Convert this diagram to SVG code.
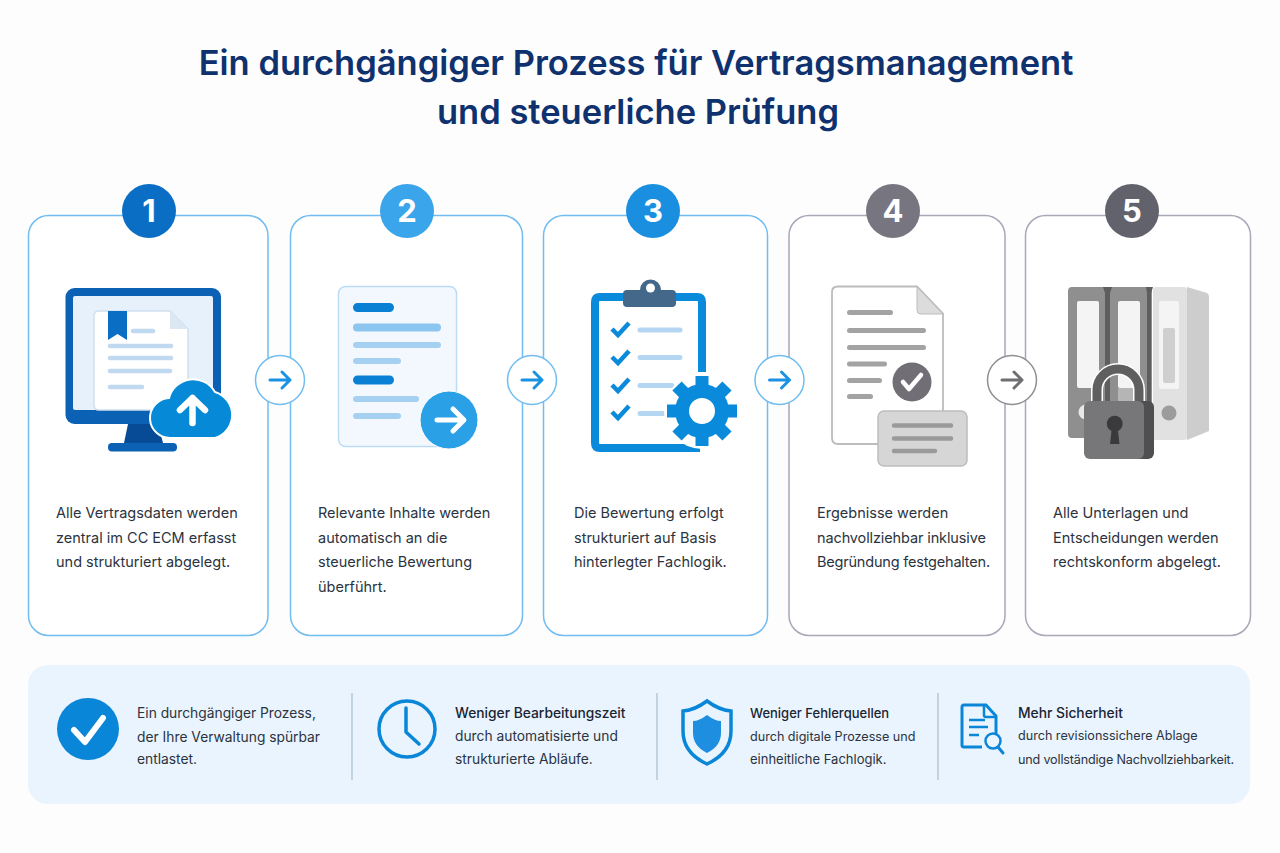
<svg xmlns="http://www.w3.org/2000/svg" width="1280" height="853" viewBox="0 0 1280 853">
<style>
text{font-family:"Inter","Liberation Sans",sans-serif}
.t{font-size:34.5px;font-weight:600;fill:#0f326e;text-anchor:middle}
.b{font-size:14.5px;fill:#2b3340}
.s{font-size:13.8px;fill:#2b3340}
.s2{font-size:12.6px;fill:#2b3340}
.h{font-size:13.8px;font-weight:500;fill:#1b2433}
.n{font-size:31px;font-weight:700;fill:#fff;text-anchor:middle}
.card{fill:#fff;stroke-width:1.5}
.bl{stroke:#72bdf0}.gr{stroke:#a8a8b8}
.arr{fill:none;stroke-width:3;stroke-linecap:round;stroke-linejoin:round}
.ac{fill:#fff;stroke-width:1.5}
.div{stroke:#a9bccd;stroke-width:1.2}
</style>
<rect width="1280" height="853" fill="#fdfdfe"/>
<g id="title"><text class="t" x="636" y="75">Ein durchgängiger Prozess für Vertragsmanagement</text><text class="t" x="638" y="124">und steuerliche Prüfung</text></g>

<g id="step1">
<rect class="card bl" x="28.500" y="215.500" width="239.500" height="420" rx="20"/>
<circle cx="149" cy="211" r="27" fill="#0a6fc4"/><text class="n" x="149" y="222">1</text>
<rect x="65.500" y="288" width="155.500" height="136" rx="9" fill="#0b62b4"/>
<rect x="73" y="296" width="140" height="114" rx="2" fill="#e6f1fb"/>
<path d="M128 424h30l5 19h-39z" fill="#074a95"/><rect x="108" y="443" width="69" height="8.500" rx="4" fill="#0b62b4"/>
<path d="M99 311h71l18 18v81H99q-5 0-5-5v-89q0-5 5-5z" fill="#fff" stroke="#cfe0f0" stroke-width="1.500"/>
<path d="M170 311l18 18h-18z" fill="#dbe8f4"/>
<path d="M108 311h19v29l-9.500-6-9.500 6z" fill="#0a6fc4"/>
<g stroke="#c0d9f0" stroke-width="4.500" stroke-linecap="round"><path d="M133 331h20"/><path d="M110 346h61M110 358h61M110 371h60M110 387h32"/></g>
<path d="M171 438A20 20 0 0 1 169 398A25 25 0 0 1 215 392A24 24 0 0 1 215 438Z" fill="#068ad8" stroke="#fff" stroke-width="2"/>
<path d="M192.500 423v-25M180 410l12.500-12 12.500 12" fill="none" stroke="#fff" stroke-width="6.500" stroke-linecap="round" stroke-linejoin="round"/>
<text class="b"><tspan x="56" y="518">Alle Vertragsdaten werden</tspan><tspan x="56" y="543">zentral im CC ECM erfasst</tspan><tspan x="56" y="567">und strukturiert abgelegt.</tspan></text>
</g>

<g id="step2">
<rect class="card bl" x="290.500" y="215.500" width="232" height="420" rx="20"/>
<circle cx="407" cy="211" r="27" fill="#3aa5ea"/><text class="n" x="407" y="222">2</text>
<rect x="338.500" y="286.500" width="118" height="160" rx="7" fill="#f3f8fe" stroke="#bcdcf5" stroke-width="1.500"/>
<g stroke-linecap="round"><path d="M357.500 307.500h32M357.500 380h32" stroke="#0a80d4" stroke-width="9"/><path d="M357 327.500h80" stroke="#8cc5ef" stroke-width="8"/><path d="M356 345h82M356 361h42M356 399h60M356 416h42" stroke="#a6d0f1" stroke-width="6"/></g>
<circle cx="449" cy="420" r="29" fill="#2aa0e6" stroke="#fff" stroke-width="1"/>
<path d="M437 420h26M453 409l11 11-11 11" fill="none" stroke="#fff" stroke-width="5" stroke-linecap="round" stroke-linejoin="round"/>
<text class="b"><tspan x="318" y="518">Relevante Inhalte werden</tspan><tspan x="318" y="543">automatisch an die</tspan><tspan x="318" y="567">steuerliche Bewertung</tspan><tspan x="318" y="592">überführt.</tspan></text>
</g>

<g id="step3">
<rect class="card bl" x="543.500" y="215.500" width="224" height="420" rx="20"/>
<circle cx="653" cy="211" r="27" fill="#1a8fe0"/><text class="n" x="653" y="222">3</text>
<path d="M702 372V302q0-5-5-5H600q-5 0-5 5V443q0 5 5 5H700" fill="none" stroke="#0a8ada" stroke-width="8"/>
<path d="M640 290a10.500 10.500 0 0 1 21 0h11q4 0 4 4v9q0 4-4 4H627q-4 0-4-4v-9q0-4 4-4z" fill="#44688a"/>
<circle cx="650.500" cy="288" r="4.500" fill="#fff"/>
<g fill="none" stroke="#0a8ada" stroke-width="4.500"><path d="M612 329l6 6 11-12M612 357l6 6 11-12M612 385l6 6 11-12M612 412l6 6 11-12"/></g>
<g stroke="#b4d6f2" stroke-width="5" stroke-linecap="round"><path d="M640 330h40M640 357.500h40M640 385.500h32M640 413.500h23"/></g>
<circle cx="702" cy="411" r="38" fill="#fff"/>
<circle cx="702" cy="411" r="27" fill="#0a8ada"/>
<g stroke="#0a8ada" stroke-width="13"><path d="M702 376v70M667 411h70M677 386l50 50M727 386l-50 50"/></g>
<circle cx="702" cy="411" r="13" fill="#fff"/>
<text class="b"><tspan x="574" y="518">Die Bewertung erfolgt</tspan><tspan x="574" y="543">strukturiert auf Basis</tspan><tspan x="574" y="567">hinterlegter Fachlogik.</tspan></text>
</g>

<g id="step4">
<rect class="card gr" x="789" y="215.500" width="216" height="420" rx="20"/>
<circle cx="893" cy="211" r="27" fill="#77757f"/><text class="n" x="893" y="222">4</text>
<path d="M838 286.500h79l26 27V438q0 6-6 6H838q-6 0-6-6V292q0-5.500 6-5.500z" fill="#fff" stroke="#bcbcbc" stroke-width="1.800"/>
<path d="M917 287l26 27h-22q-4 0-4-4z" fill="#dcdcdc" stroke="#bcbcbc"/>
<g stroke-linecap="round" stroke="#a3a3a3" stroke-width="5"><path d="M849.500 312.500h41M849.500 330.500h74M849.500 347.500h74M849.500 364h35M849.500 380.500h30M849.500 396.500h21"/></g>
<circle cx="912" cy="382" r="19.500" fill="#716f75"/>
<path d="M903 382l6 7 12-14" fill="none" stroke="#fff" stroke-width="4.500" stroke-linecap="round" stroke-linejoin="round"/>
<rect x="878" y="411" width="89" height="55" rx="6" fill="#d6d6d6" stroke="#bdbdbd" stroke-width="1.500"/>
<g stroke="#9a9a9a" stroke-width="4.500" stroke-linecap="round"><path d="M894 425.500h57M894 438.500h57M894 451h41"/></g>
<text class="b"><tspan x="817" y="518">Ergebnisse werden</tspan><tspan x="817" y="543" letter-spacing="-0.12">nachvollziehbar inklusive</tspan><tspan x="817" y="567" letter-spacing="-0.2">Begründung festgehalten.</tspan></text>
</g>

<g id="step5">
<rect class="card gr" x="1025.500" y="215.500" width="225" height="420" rx="20"/>
<circle cx="1132" cy="211" r="27" fill="#62626c"/><text class="n" x="1132" y="222">5</text>
<path d="M1187 287l20 6q2 1 2 4V431l-22 9z" fill="#cdcdcd"/>
<rect x="1153" y="287" width="34" height="153" rx="3" fill="#e1e1e1"/>
<rect x="1159" y="301" width="20" height="88" rx="2" fill="#f4f4f4"/><rect x="1163" y="328" width="12" height="55" rx="2" fill="#cfcfcf"/><circle cx="1169" cy="413" r="7.500" fill="#9c9c9c"/>
<rect x="1068" y="287" width="84" height="151" rx="4" fill="#8f8f8f"/>
<path d="M1103 287h9l-2 6v109h-5V293zM1146 287h7l-2 6v109h-4V293z" fill="#5e5e60"/>
<rect x="1077" y="301" width="22" height="87" rx="2" fill="#f4f4f4"/><rect x="1118" y="301" width="22" height="87" rx="2" fill="#f4f4f4"/>
<circle cx="1086" cy="412" r="7.500" fill="#e8e8e8"/>
<path d="M1118 388h22v15h-22z" fill="#b5b5b5"/>
<path d="M1097 402v-12a21 21 0 0 1 42 0v12" fill="none" stroke="#fff" stroke-width="12"/>
<path d="M1097 402v-12a21 21 0 0 1 42 0v12" fill="none" stroke="#5f5f60" stroke-width="9"/>
<rect x="1090" y="401" width="64" height="58" rx="6" fill="#4f4f52"/>
<rect x="1084" y="401" width="60" height="58" rx="6" fill="#777678"/>
<path d="M1110 444l1.500-13a8 8 0 1 1 6.500 0l1.500 13z" fill="#3a3a3d"/>
<text class="b"><tspan x="1053" y="518">Alle Unterlagen und</tspan><tspan x="1053" y="543">Entscheidungen werden</tspan><tspan x="1053" y="567">rechtskonform abgelegt.</tspan></text>
</g>

<g id="connectors">
<g><circle class="ac bl" cx="280" cy="380" r="24.500"/><path class="arr" stroke="#1a92e4" d="M270 380h20M282 372l8 8-8 8"/></g>
<g><circle class="ac bl" cx="532" cy="380" r="24.500"/><path class="arr" stroke="#1a92e4" d="M522 380h20M534 372l8 8-8 8"/></g>
<g><circle class="ac bl" cx="779.500" cy="380" r="24.500"/><path class="arr" stroke="#1a92e4" d="M769.500 380h20M781.500 372l8 8-8 8"/></g>
<g><circle class="ac gr" cx="1012" cy="380" r="24.500" style="stroke:#8f8f94"/><path class="arr" stroke="#6f6f72" d="M1002 380h20M1014 372l8 8-8 8"/></g>
</g>

<g id="benefits">
<rect x="28" y="665" width="1222" height="139" rx="20" fill="#e9f4fe"/>
<path class="div" d="M352 693v87M657 693v87M938 693v87"/>
</g>
<g id="benefit1">
<circle cx="88" cy="729" r="31" fill="#0a86d8"/><path d="M74 730l11 12 18-24" fill="none" stroke="#fff" stroke-width="6" stroke-linecap="round" stroke-linejoin="round"/>
<text class="s"><tspan x="137" y="718">Ein durchgängiger Prozess,</tspan><tspan x="137" y="742">der Ihre Verwaltung spürbar</tspan><tspan x="137" y="764">entlastet.</tspan></text>
</g>
<g id="benefit2">
<circle cx="407" cy="729" r="28" fill="none" stroke="#0a86d8" stroke-width="3.500"/><path d="M406 708v24l13 12" fill="none" stroke="#0a86d8" stroke-width="3.500" stroke-linecap="round" stroke-linejoin="round"/>
<text><tspan class="h" x="455" y="718">Weniger Bearbeitungszeit</tspan><tspan class="s" x="455" y="741">durch automatisierte und</tspan><tspan class="s" x="455" y="764">strukturierte Abläufe.</tspan></text>
</g>
<g id="benefit3">
<path d="M707 701q12 9 24 10v20q0 22-24 33q-24-11-24-33v-20q12-1 24-10z" fill="none" stroke="#0a86d8" stroke-width="3.500"/>
<path d="M707 715q8 6 14 6v12q0 13-14 20q-14-7-14-20v-12q6 0 14-6z" fill="#1e8fe0"/>
<text><tspan class="h" x="750" y="718" style="font-size:13px">Weniger Fehlerquellen</tspan><tspan class="s2" x="750" y="741">durch digitale Prozesse und</tspan><tspan class="s2" x="750" y="764" style="font-size:13px">einheitliche Fachlogik.</tspan></text>
</g>
<g id="benefit4">
<path d="M982 747h-18q-2 0-2-2v-38q0-2 2-2h22l10 11v18" fill="none" stroke="#0a86d8" stroke-width="3"/><path d="M984 705v10q0 2 2 2h10" fill="none" stroke="#0a86d8" stroke-width="2.500"/>
<path d="M969 720h16M969 727h19M969 735h10" stroke="#0a86d8" stroke-width="2.500"/>
<circle cx="993" cy="741" r="7.500" fill="none" stroke="#0a86d8" stroke-width="2.500"/><path d="M998 747l5 6" stroke="#0a86d8" stroke-width="3" stroke-linecap="round"/>
<text><tspan class="h" x="1018" y="718">Mehr Sicherheit</tspan><tspan class="s2" x="1018" y="740">durch revisionssichere Ablage</tspan><tspan class="s2" x="1018" y="764" letter-spacing="-0.17">und vollständige Nachvollziehbarkeit.</tspan></text>
</g>
</svg>
